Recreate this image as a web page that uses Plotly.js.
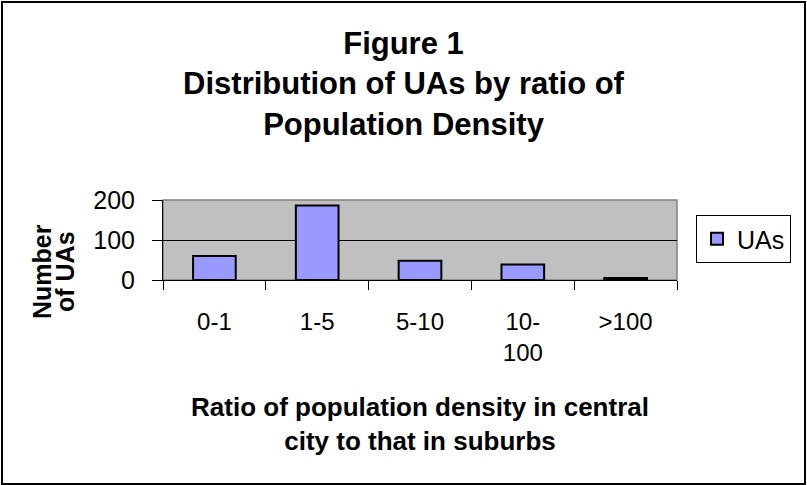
<!DOCTYPE html>
<html>
<head>
<meta charset="utf-8">
<script src="https://cdn.plot.ly/plotly-3.0.1.min.js"></script>
<style>
  html, body { margin: 0; padding: 0; background: #fff; }
  #wrap { position: relative; width: 807px; height: 485px; }
  #chart { position: absolute; left: 0; top: 0; width: 807px; height: 485px; }
  #frame { position: absolute; left: 1px; top: 1px; width: 801px; height: 480px;
           border: 2px solid #000; pointer-events: none; }
</style>
</head>
<body>
<div id="wrap">
  <div id="chart"></div>
  <div id="frame"></div>
</div>
<script>
// ---- data ----
const categories = ["0-1", "1-5", "5-10", "10-100", ">100"];
const tickLabels = ["0-1", "1-5", "5-10", "10-<br>100", ">100"];
const uas = [60, 186, 48, 39, 5];
const yTickVals = [0, 100, 200];
const yTickText = ["0", "100", "200"];
const seriesName = "UAs";
const titleText = "Figure 1<br>Distribution of UAs by ratio of<br>Population Density";
const xTitleText = "Ratio of population density in central<br>city to that in suburbs";
const yTitleLines = ["Number", "of UAs"];

const FONT = "Arial, 'Liberation Sans', sans-serif";

const trace = {
  type: "bar",
  x: categories,
  y: uas,
  name: seriesName,
  marker: { color: "#9999FF", line: { color: "#000000", width: 2 } },
  hoverinfo: "x+y"
};

const layout = {
  width: 807,
  height: 485,
  margin: { l: 163, r: 130, t: 200, b: 205, pad: 0 },
  paper_bgcolor: "#FFFFFF",
  plot_bgcolor: "#C0C0C0",
  font: { family: FONT, size: 24, color: "#000" },
  bargap: 0.585,
  showlegend: true,
  title: {
    text: titleText,
    font: { family: FONT, size: 31, weight: "bold", color: "#000" },
    x: 0.5, xref: "container", xanchor: "center",
    y: 1 - 54 / 485, yref: "container", yanchor: "top"
  },
  xaxis: {
    type: "category",
    tickmode: "array",
    tickvals: categories,
    ticktext: tickLabels,
    tickson: "boundaries",
    ticks: "outside",
    ticklen: 9,
    tickwidth: 1,
    tickcolor: "#000",
    ticklabelstandoff: 20,
    showline: true,
    linecolor: "#000",
    linewidth: 1,
    showgrid: false,
    automargin: false,
    tickfont: { family: FONT, size: 24, color: "#000" },
    title: {
      text: xTitleText,
      font: { family: FONT, size: 26, weight: "bold", color: "#000" },
      standoff: 32
    }
  },
  yaxis: {
    range: [0, 200],
    tickmode: "array",
    tickvals: yTickVals,
    ticktext: yTickText,
    ticks: "outside",
    ticklen: 10,
    tickwidth: 1,
    tickcolor: "#000",
    ticklabelstandoff: 12,
    showline: true,
    linecolor: "#000",
    linewidth: 1,
    showgrid: true,
    gridcolor: "#000",
    gridwidth: 1,
    zeroline: false,
    automargin: false,
    fixedrange: true,
    tickfont: { family: FONT, size: 25, color: "#000" }
  },
  legend: {
    x: (696 - 163) / 514, xanchor: "left",
    y: (280 - 215) / 80, yanchor: "top",
    bgcolor: "#FFFFFF",
    bordercolor: "#000",
    borderwidth: 1,
    font: { family: FONT, size: 25, color: "#000" },
    itemwidth: 30
  },
  shapes: [
    { type: "rect", xref: "paper", yref: "paper", x0: 0, x1: 1, y0: 0, y1: 1,
      line: { color: "#808080", width: 1.5 }, layer: "below" }
  ],
  annotations: yTitleLines.map((t, i) => ({
    text: "<b>" + t + "</b>",
    xref: "paper", yref: "paper",
    x: 0, y: 0.5,
    xanchor: "center", yanchor: "middle",
    xshift: i === 0 ? -121 : -98,
    yshift: -32,
    textangle: -90,
    showarrow: false,
    font: { family: FONT, size: 25, color: "#000" }
  }))
};

Plotly.newPlot("chart", [trace], layout, { staticPlot: true, displayModeBar: false });
</script>
</body>
</html>
